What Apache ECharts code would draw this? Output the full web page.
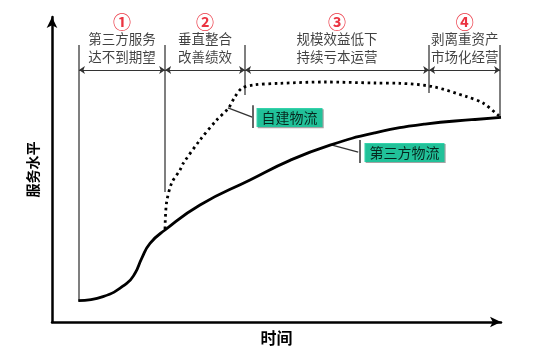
<!DOCTYPE html>
<html><head><meta charset="utf-8">
<script src="https://cdn.jsdelivr.net/npm/echarts@6/dist/echarts.min.js"></script>
<style>html,body{margin:0;padding:0;background:#fff}#c{width:550px;height:359px}</style>
</head><body><div id="c"></div>
<script>
// Phase boundaries on the (unitless) time axis, 0..100
const phaseBounds = [6, 25.2, 43, 84, 99.8];
const boundBottoms = [7, 42.6, 74.4, 75.1, 67];
const boundTop = 90.8;
const arrowY = 82.6;
const phaseNums = ['①', '②', '③', '④'];
const phaseLine1 = ['第三方服务', '垂直整合', '规模效益低下', '剥离重资产'];
const phaseLine2 = ['达不到期望', '改善绩效', '持续亏本运营', '市场化经营'];
const numY = 98.3;
const textY = 89.9;

// Service level curves [time, level]
const thirdParty = [
  [5.86, 6.98], [11.36, 8.3], [16.64, 12.69], [18.49, 15.97], [19.98, 20.89],
  [21.83, 25.8], [25.17, 30.16], [32.96, 38.36], [44.1, 46.56], [53.0, 53.0],
  [61.92, 58.0], [71.94, 62.0], [83.07, 64.9], [94.21, 66.4], [100, 67.11]
];
const selfBuilt = [
  [25.17, 30.5], [25.5, 39.0], [26.66, 45.57], [28.5, 49.8], [29.24, 52.03],
  [32.96, 59.67], [36.68, 66.23], [39.27, 70.07], [40.76, 73.87], [42.25, 76.62],
  [44.83, 77.7], [50.78, 78.26], [60.8, 78.69], [71.94, 78.36], [77.5, 78.26],
  [84.86, 77.15], [92.36, 73.87], [95.99, 71.8], [99.33, 67.87], [100, 67.11]
];

// Callout labels
const calloutNames = ['自建物流', '第三方物流'];
const calloutCenters = [[52.9, 67.05], [78.5, 55.6]];
const calloutLeaders = [[[39.2, 70.2], [44.6, 67.2]], [[62.4, 58.0], [68.2, 55.7]]];
const calloutBars = [[[44.8, 71.1], [44.8, 63.6]], [[68.6, 59.7], [68.6, 52.1]]];

const FONT = '"Noto Sans CJK SC", "Noto Sans", sans-serif';

const vLines = phaseBounds.map((x, i) => ({ coords: [[x, boundBottoms[i]], [x, boundTop]] }));
const hArrows = [];
for (let i = 0; i < phaseBounds.length - 1; i++) {
  hArrows.push({ coords: [[phaseBounds[i], arrowY], [phaseBounds[i + 1], arrowY]] });
}
const mids = phaseNums.map((_, i) => (phaseBounds[i] + phaseBounds[i + 1]) / 2);

const chart = echarts.init(document.getElementById('c'));
chart.setOption({
  animation: false,
  grid: { left: 52, right: 49, top: 17, bottom: 37 },
  xAxis: {
    type: 'value', min: 0, max: 100,
    axisLine: { show: true, symbol: ['none', 'arrow'], symbolSize: [8, 11], lineStyle: { color: '#000', width: 2.5 } },
    axisTick: { show: false }, axisLabel: { show: false }, splitLine: { show: false },
    name: '时间', nameLocation: 'middle', nameGap: 8,
    nameTextStyle: { fontFamily: FONT, fontSize: 16, fontWeight: 'bold', color: '#000', verticalAlign: 'top' }
  },
  yAxis: {
    type: 'value', min: 0, max: 100,
    axisLine: { show: true, symbol: ['none', 'arrow'], symbolSize: [8, 11], lineStyle: { color: '#000', width: 2.5 } },
    axisTick: { show: false }, axisLabel: { show: false }, splitLine: { show: false },
    name: '服务水平', nameLocation: 'middle', nameGap: 12, nameRotate: 90,
    nameTextStyle: { fontFamily: FONT, fontSize: 14, fontWeight: 'bold', color: '#000' }
  },
  series: [
    {
      type: 'lines', coordinateSystem: 'cartesian2d', silent: true, z: 1,
      lineStyle: { color: '#555', width: 1.5, opacity: 1 },
      data: vLines
    },
    {
      type: 'lines', coordinateSystem: 'cartesian2d', silent: true, z: 1,
      symbol: ['arrow', 'arrow'], symbolSize: 6,
      lineStyle: { color: '#333', width: 1, opacity: 1 },
      data: hArrows
    },
    {
      type: 'lines', coordinateSystem: 'cartesian2d', silent: true, z: 1,
      lineStyle: { color: '#333', width: 1.3, opacity: 1 },
      data: calloutLeaders.map(c => ({ coords: c })).concat(calloutBars.map(c => ({ coords: c, lineStyle: { color: '#555', width: 1.8 } })))
    },
    {
      type: 'line', data: selfBuilt, smooth: 0.3, showSymbol: false, z: 3,
      lineStyle: { color: '#000', width: 2.8, type: [2.6, 3.6] }
    },
    {
      type: 'line', data: thirdParty, smooth: 0.5, showSymbol: false, z: 4,
      lineStyle: { color: '#000', width: 2.8 }
    },
    {
      type: 'scatter', symbolSize: 0, silent: true, z: 5,
      data: mids.map((x, i) => ({ value: [x, numY], label: { formatter: phaseNums[i] } })),
      label: { show: true, position: 'inside', fontFamily: FONT, fontSize: 18, fontWeight: 'bold', color: '#e60012' }
    },
    {
      type: 'scatter', symbolSize: 0, silent: true, z: 5,
      data: mids.map((x, i) => ({ value: [x, textY], label: { formatter: phaseLine1[i] + '\n' + phaseLine2[i] } })),
      label: { show: true, position: 'inside', fontFamily: FONT, fontSize: 13.5, lineHeight: 18, color: '#111', align: 'center' }
    },
    {
      type: 'scatter', symbolSize: 0, silent: true, z: 6,
      data: calloutCenters.map((c, i) => ({ value: c, label: { formatter: calloutNames[i] } })),
      label: {
        show: true, position: 'inside', fontFamily: FONT, fontSize: 14, color: '#000',
        backgroundColor: '#00c896', padding: [3, 5, 2, 5],
        shadowColor: 'rgba(0,0,0,0.45)', shadowOffsetX: 1.2, shadowOffsetY: 1.2, shadowBlur: 0
      }
    }
  ]
});
</script></body></html>
